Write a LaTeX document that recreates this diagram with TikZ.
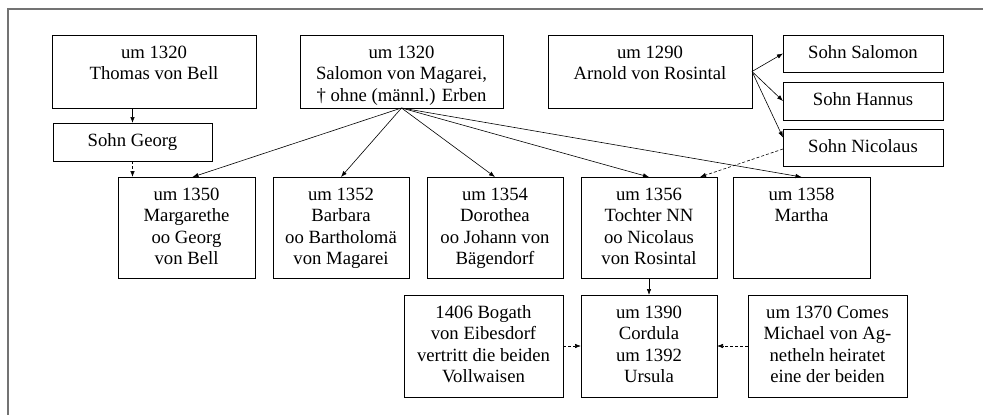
\documentclass[tikz,border=0pt]{standalone}
\usepackage{fontspec}
\setmainfont{Liberation Serif}
\usetikzlibrary{arrows.meta}
\newcommand{\boxtext}[3]{\parbox[c][#2][t]{#1}{\centering\rule{0pt}{23pt}#3\par}}
\tikzset{
  famnode/.style={draw, line width=0.8pt, inner sep=0pt, outer sep=0pt, anchor=north west,
    font=\fontsize{18.7}{21.5}\selectfont},
  arr/.style={-{Latex[length=6pt,width=4.5pt]}, line width=0.6pt},
  darr/.style={arr, dash pattern=on 3pt off 2pt},
  framestyle/.style={draw=black!55, line width=1.5pt},
}
\newcommand{\famb}[6]{\node[famnode] (#1) at (#2,#3) {\boxtext{#4pt}{#5pt}{#6}};}
\begin{document}
\begin{tikzpicture}[x=1pt, y=-1pt]
\useasboundingbox (0,0) rectangle (983,415);
\draw[framestyle] (8,415) -- (8,9) -- (983,9);
% top row
\famb{thomas}{52}{35}{204}{73}{um 1320\\Thomas von Bell}
\famb{georg}{53}{123}{159}{38}{Sohn Georg}
\famb{salomon}{300}{35}{203}{73}{um 1320\\Salomon von Magarei,\\† ohne (männl.) Erben}
\famb{arnold}{548}{35}{204}{73}{um 1290\\Arnold von Rosintal}
\famb{ssal}{783}{35}{160}{37}{Sohn Salomon}
\famb{shan}{783}{82}{160}{38}{Sohn Hannus}
\famb{snic}{783}{129}{160}{37}{Sohn Nicolaus}
% second row
\famb{marg}{118}{177}{137}{101}{um 1350\\Margarethe\\oo Georg\\von Bell}
\famb{barb}{273}{177}{136}{101}{um 1352\\Barbara\\oo Bartholomä\\von Magarei}
\famb{doro}{427}{177}{136}{101}{um 1354\\Dorothea\\oo Johann von\\Bägendorf}
\famb{toch}{581}{177}{136}{101}{um 1356\\Tochter NN\\oo Nicolaus\\von Rosintal}
\famb{mart}{733}{177}{137}{101}{um 1358\\Martha}
% third row
\famb{bog}{404}{295}{159}{102}{1406 Bogath\\von Eibesdorf\\vertritt die beiden\\Vollwaisen}
\famb{cord}{581}{295}{136}{102}{um 1390\\Cordula\\um 1392\\Ursula}
\famb{comes}{748}{295}{159}{102}{um 1370 Comes\\Michael von Ag-\\netheln heiratet\\eine der beiden}
% connectors
\draw[arr] (georg.north |- thomas.south) -- (georg.north);
\draw[darr] (georg.south) -- (georg.south |- marg.north);
\draw[arr] (salomon.south) -- ([xshift=6pt]marg.north);
\draw[arr] (salomon.south) -- (barb.north);
\draw[arr] (salomon.south) -- (doro.north);
\draw[arr] (salomon.south) -- (toch.north);
\draw[arr] (salomon.south) -- (mart.north);
\draw[arr] (arnold.east) -- (ssal.west);
\draw[arr] (arnold.east) -- (shan.west);
\draw[arr] (arnold.east) -- ([yshift=10pt]snic.west);
\draw[darr] ([yshift=-1.5pt]snic.west) -- ([xshift=51pt]toch.north);
\draw[arr] (toch.south) -- (cord.north);
\draw[darr] (bog.east) -- (cord.west);
\draw[darr] (comes.west) -- (cord.east);
\end{tikzpicture}
\end{document}
